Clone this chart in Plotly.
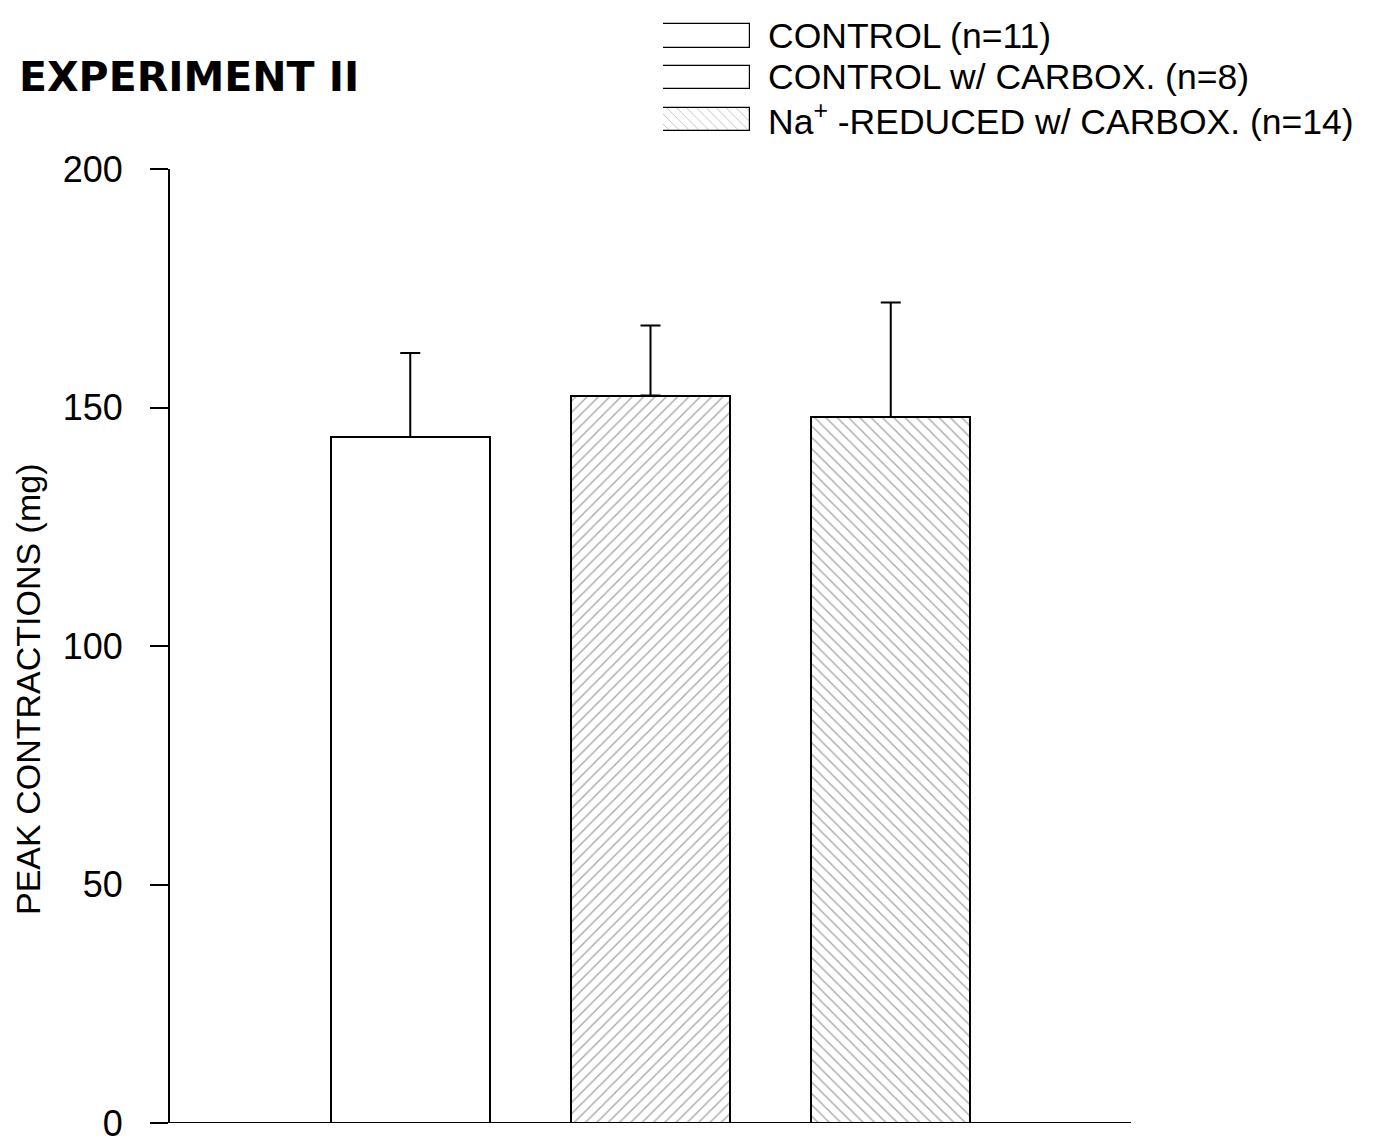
import plotly.graph_objects as go

# Peak contraction data (mean + SEM), three treatment groups
groups = ["CONTROL (n=11)", "CONTROL w/ CARBOX. (n=8)", "Na<sup>+</sup> -REDUCED w/ CARBOX. (n=14)"]
means = [143.8, 152.5, 148.0]
sems = [17.6, 14.7, 24.0]
y_ticks = [0, 50, 100, 150, 200]

patterns = ["", "/", "\\"]
legend_patterns = ["", "", "\\"]
FONT = "Liberation Sans, Arial, sans-serif"
TITLE_FONT = "DejaVu Sans, Arial Black, sans-serif"

W, H = 1382, 1144
L, R, T, B = 170, 251, 10, 21
PW, PH = W - L - R, H - T - B


def px_x(px):
    return (px - L) / PW


def px_y(py):
    return (H - B - py) / PH


fig = go.Figure()

fig.add_trace(go.Bar(
    x=[0, 1, 2],
    y=means,
    width=0.66,
    marker=dict(
        color="white",
        line=dict(color="black", width=2),
        pattern=dict(shape=patterns, fgcolor="#555555", bgcolor="white",
                     size=8, solidity=0.18, fillmode="overlay"),
    ),
    error_y=dict(type="data", symmetric=False, array=sems, arrayminus=[0, 0, 0],
                 color="black", thickness=2, width=10),
    showlegend=False,
    hoverinfo="skip",
))

# Legend swatches drawn as small horizontal bars on their own axes
fig.add_trace(go.Bar(
    x=[1, 1, 1],
    y=[0, 1, 2],
    orientation="h",
    width=0.56,
    marker=dict(
        color="white",
        line=dict(color="black", width=1.2),
        pattern=dict(shape=legend_patterns, fgcolor="#8a8a8a", bgcolor="white",
                     size=7, solidity=0.14, fillmode="overlay"),
    ),
    xaxis="x2",
    yaxis="y2",
    showlegend=False,
    hoverinfo="skip",
))

# Legend labels
for i, g in enumerate(groups):
    fig.add_annotation(
        text=g, xref="paper", yref="y2", x=px_x(766), y=i,
        xanchor="left", yanchor="middle", showarrow=False,
        font=dict(family=FONT, size=35.5, color="black"),
    )

# Title
fig.add_annotation(
    text="<b>EXPERIMENT II</b>", xref="paper", yref="paper",
    x=px_x(17), y=px_y(77),
    xanchor="left", yanchor="middle", showarrow=False,
    font=dict(family=TITLE_FONT, size=41, color="black"),
)

# Y-axis title
fig.add_annotation(
    text="PEAK CONTRACTIONS (mg)", xref="paper", yref="paper",
    x=px_x(28), y=px_y(690),
    textangle=-90, xanchor="center", yanchor="middle", showarrow=False,
    font=dict(family=FONT, size=34, color="black"),
)

# Baseline extends left to meet the zero tick
fig.add_shape(type="line", xref="paper", yref="y",
              x0=px_x(152), x1=1, y0=0, y1=0,
              line=dict(color="black", width=2))

fig.update_layout(
    width=W, height=H,
    margin=dict(l=L, r=R, t=T, b=B, autoexpand=False),
    paper_bgcolor="white",
    plot_bgcolor="white",
    bargap=0,
    xaxis=dict(range=[-1, 3], showticklabels=False, ticks="", showgrid=False,
               zeroline=False, showline=False, fixedrange=True, automargin=False),
    yaxis=dict(domain=[0, px_y(169)], range=[0, 200], tickvals=y_ticks,
               ticks="outside", ticklen=18, tickwidth=1.5, tickcolor="black",
               showline=True, linecolor="black", linewidth=2, showgrid=False,
               zeroline=False, ticklabelstandoff=20, automargin=False,
               ticklabeloverflow="allow",
               tickfont=dict(family=FONT, size=36, color="black")),
    xaxis2=dict(domain=[px_x(663), px_x(750)], range=[0, 1], automargin=False,
                anchor="y2", visible=False, fixedrange=True),
    yaxis2=dict(domain=[px_y(140), px_y(15)], range=[2.5, -0.5], automargin=False,
                anchor="x2", visible=False, fixedrange=True),
)

fig.write_html("out.html")
